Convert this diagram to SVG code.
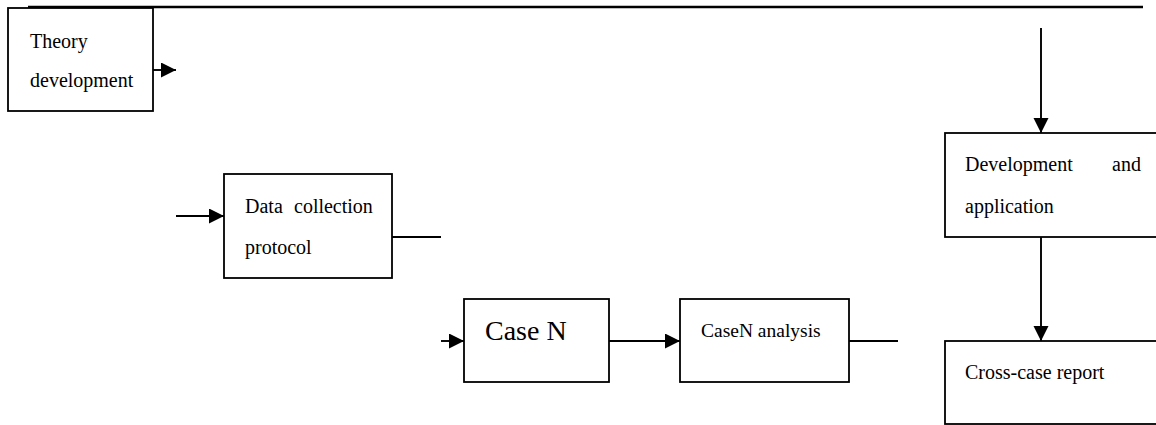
<svg xmlns="http://www.w3.org/2000/svg" width="1156" height="425" viewBox="0 0 1156 425">
<style>
.box{fill:#fff;stroke:#000;stroke-width:1.8}
.t{font-family:"Liberation Serif","Times New Roman",serif;font-size:20px;fill:#000}
.ln{stroke:#000;stroke-width:1.9;fill:none}
</style>
<defs>
<marker id="ah" markerUnits="userSpaceOnUse" markerWidth="17" markerHeight="17" refX="15" refY="7.5" orient="auto">
<path d="M0,0 L15,7.5 L0,15 Z" fill="#000"/>
</marker>
</defs>
<rect width="1156" height="425" fill="#fff"/>
<g id="connectors">
<line class="ln" x1="28" y1="7" x2="1143" y2="7" style="stroke-width:2.4"/>
<line class="ln" x1="153" y1="70" x2="176" y2="70" marker-end="url(#ah)"/>
<line class="ln" x1="176" y1="216" x2="224" y2="216" marker-end="url(#ah)"/>
<line class="ln" x1="392" y1="237" x2="441" y2="237"/>
<line class="ln" x1="441" y1="341" x2="464" y2="341" marker-end="url(#ah)"/>
<line class="ln" x1="609" y1="341" x2="680" y2="341" marker-end="url(#ah)"/>
<line class="ln" x1="849" y1="341" x2="898" y2="341"/>
<line class="ln" x1="1041" y1="28" x2="1041" y2="133" marker-end="url(#ah)"/>
<line class="ln" x1="1041" y1="237" x2="1041" y2="341" marker-end="url(#ah)"/>
</g>
<g id="theory">
<rect class="box" x="8" y="8" width="145" height="103"/>
<text class="t" x="30" y="48">Theory</text>
<text class="t" x="30" y="87">development</text>
</g>
<g id="datacollection">
<rect class="box" x="224" y="174" width="168" height="104"/>
<text class="t" x="245" y="213">Data<tspan x="294">collection</tspan></text>
<text class="t" x="245" y="254">protocol</text>
</g>
<g id="casen">
<rect class="box" x="464" y="299" width="145" height="83"/>
<text class="t" x="485" y="340" style="font-size:28px">Case N</text>
</g>
<g id="casenanalysis">
<rect class="box" x="680" y="299" width="169" height="83"/>
<text class="t" x="701" y="337" style="font-size:19.5px">CaseN analysis</text>
</g>
<g id="devapp">
<rect class="box" x="945" y="133" width="220" height="104"/>
<text class="t" x="965" y="171">Development<tspan x="1112">and</tspan></text>
<text class="t" x="965" y="213">application</text>
</g>
<g id="crosscase">
<rect class="box" x="945" y="341" width="220" height="83"/>
<text class="t" x="965" y="379">Cross-case report</text>
</g>
</svg>
